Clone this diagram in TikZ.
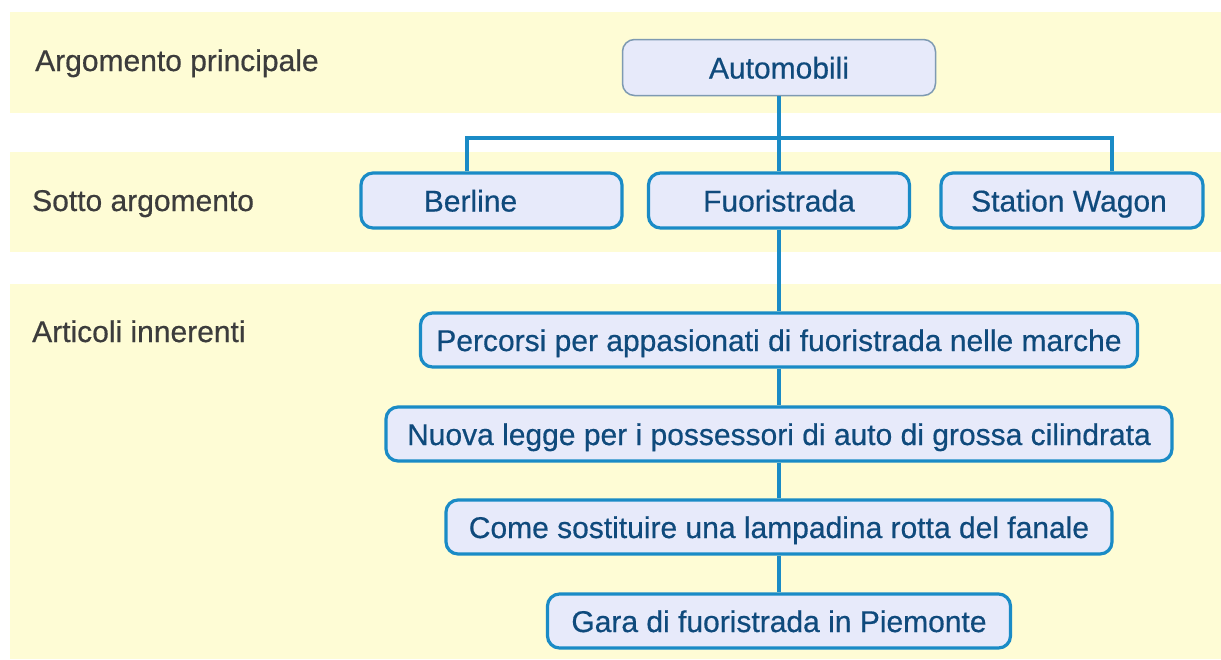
\documentclass[tikz,border=0pt]{standalone}
\usepackage{fontspec}
\setmainfont{Liberation Sans}[FakeBold=0.5]
\definecolor{band}{HTML}{FEFCD5}
\definecolor{boxfill}{HTML}{E7EAFA}
\definecolor{boxline}{HTML}{1A8BC6}
\definecolor{topline}{HTML}{7E9AB2}
\definecolor{boxtext}{HTML}{0F4A7C}
\definecolor{lbl}{HTML}{3C3C3C}
\begin{document}
\begin{tikzpicture}[x=1pt,y=-1pt,
  every node/.style={font=\fontsize{30}{36}\selectfont},
  bandrect/.style={fill=band, draw=none},
  rowlabel/.style={text=lbl, anchor=base west, inner sep=0pt},
  subbox/.style={draw=boxline, line width=3.2pt, fill=boxfill, rounded corners=12pt,
    minimum height=55pt, inner sep=0pt},
  topbox/.style={draw=topline, line width=1.5pt, fill=boxfill, rounded corners=12pt,
    minimum height=56pt, inner sep=0pt},
  boxlabel/.style={text=boxtext, inner sep=0pt, anchor=base},
  conn/.style={draw=boxline, line width=3.2pt}]
\useasboundingbox (0,0) rectangle (1221,659);
\fill[white] (0,0) rectangle (1221,659);
% bands
\fill[bandrect] (10,12) rectangle (1221,113);
\fill[bandrect] (10,152) rectangle (1221,252);
\fill[bandrect] (10,284) rectangle (1221,659);
% row labels (baselines)
\node[rowlabel] (l1) at (35,71) {Argomento principale};
\node[rowlabel] (l2) at (32,211) {Sotto argomento};
\node[rowlabel] (l3) at (32,342) {Articoli innerenti};
% junction coordinates
\coordinate (hb) at (467,138);
\coordinate (hs) at (1112,138);
\coordinate (hm) at (779,138);
% boxes
\node[topbox, minimum width=313pt] (auto) at (779,67.5) {};
\node[subbox, minimum width=261pt] (berline) at (491.5,200.5) {};
\node[subbox, minimum width=261pt] (fuori) at (779,200.5) {};
\node[subbox, minimum width=262pt] (station) at (1072,200.5) {};
\node[subbox, minimum width=717pt, minimum height=54pt] (a1) at (779,340) {};
\node[subbox, minimum width=786pt, minimum height=54pt] (a2) at (779,434) {};
\node[subbox, minimum width=666pt, minimum height=54pt] (a3) at (779,527) {};
\node[subbox, minimum width=463pt, minimum height=54pt] (a4) at (779,621) {};
% box texts (placed on baselines)
\node[boxlabel] (tauto) at ([yshift=-11pt]auto.center) {Automobili};
\node[boxlabel] (tberline) at ([xshift=-21pt, yshift=-11pt]berline.center) {Berline};
\node[boxlabel] (tfuori) at ([yshift=-11pt]fuori.center) {Fuoristrada};
\node[boxlabel] (tstation) at ([xshift=-3pt, yshift=-11pt]station.center) {Station Wagon};
\node[boxlabel] (ta1) at ([yshift=-11pt]a1.center) {Percorsi per appasionati di fuoristrada nelle marche};
\node[boxlabel] (ta2) at ([yshift=-11pt]a2.center) {Nuova legge per i possessori di auto di grossa cilindrata};
\node[boxlabel] (ta3) at ([yshift=-11pt]a3.center) {Come sostituire una lampadina rotta del fanale};
\node[boxlabel] (ta4) at ([yshift=-11pt]a4.center) {Gara di fuoristrada in Piemonte};
% connectors
\draw[conn] (auto.south) -- (hm);
\draw[conn] (berline.north -| hb) -- (hb) -- (hs) -- (station.north -| hs);
\draw[conn] (hm) -- (fuori.north);
\draw[conn] (fuori.south) -- (a1.north);
\draw[conn] (a1.south) -- (a2.north);
\draw[conn] (a2.south) -- (a3.north);
\draw[conn] (a3.south) -- (a4.north);
\end{tikzpicture}
\end{document}
